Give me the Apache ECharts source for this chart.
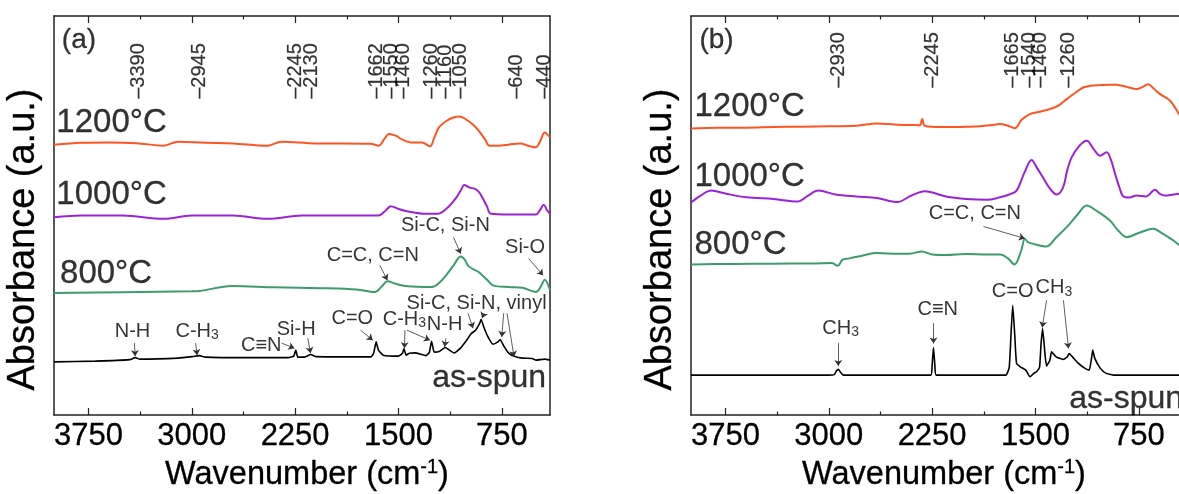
<!DOCTYPE html>
<html><head><meta charset="utf-8">
<script src="https://cdn.jsdelivr.net/npm/echarts@6/dist/echarts.min.js"></script>
<style>html,body{margin:0;padding:0;background:#fff}#c{width:1179px;height:494px}</style>
</head><body><div id="c"></div>
<script>
const FONT = 'Liberation Sans, Arial, sans-serif';
const majorTicks = [750, 1500, 2250, 3000, 3750];
const minorTicks = [1125, 1875, 2625, 3375];
const peaksA = [3390, 2945, 2245, 2130, 1662, 1550, 1460, 1260, 1160, 1050, 640, 440];
const peaksB = [2930, 2245, 1665, 1540, 1460, 1260];

// Panel (a) spectra [wavenumber, absorbance (offset, a.u.)]
const a1200 = [[4000,271],[3800,273],[3600,273.3],[3400,272.5],[3205,270],[3100,274],[2900,273],[2700,272.3],[2449,270],[2350,274],[2100,272.3],[1900,272.3],[1700,272],[1645,270],[1600,277],[1569,281.7],[1520,280],[1470,276],[1410,273.3],[1330,273.3],[1271,269.3],[1240,278],[1206,288.3],[1150,295],[1100,298.3],[1060,299.3],[995,295],[950,290],[918,285],[870,276],[840,270],[780,270],[700,271],[617,272.3],[560,270],[503,268.3],[470,275],[438,283.3],[410,280],[400,278.3]];
const a1000 = [[4000,198.3],[3800,200],[3500,200],[3205,196.7],[3000,200],[2700,200],[2450,196.7],[2200,200],[1900,200],[1645,200],[1600,204],[1555,209.3],[1500,206.5],[1440,204.3],[1300,201.7],[1217,201.7],[1150,207],[1087,216.7],[1040,227],[1024,230.7],[985,228],[944,226.7],[915,223.5],[892,218.3],[860,210],[828,201.7],[700,201],[600,201],[503,201],[470,206],[446,210.7],[420,205],[400,201.7]];
const a800 = [[4000,122.3],[3500,123],[3000,124],[2943,124.3],[2710,129.3],[2400,128],[2000,127],[1802,125.7],[1671,123.3],[1620,129],[1580,134],[1520,131.5],[1450,129.3],[1257,128.3],[1200,133],[1154,140],[1100,150],[1048,159],[1020,156],[990,149],[918,143.3],[860,136],[814,130],[700,128.3],[600,127.5],[503,123.3],[470,128],[438,135.7],[400,125]];
const aSpun = [[4000,53.3],[3700,54],[3450,55.5],[3410,57.5],[3380,56],[3100,57],[2995,58.5],[2945,59.5],[2900,58],[2600,57.5],[2300,57.5],[2260,59],[2245,65],[2230,58],[2180,58],[2138,60.7],[2100,58.5],[1900,58.3],[1700,58.3],[1680,62],[1662,73.3],[1645,65],[1610,60],[1500,59],[1470,62],[1460,66.7],[1445,60],[1420,62],[1380,62.3],[1300,59.5],[1275,63],[1260,74],[1240,63],[1200,64],[1160,67.7],[1130,65],[1095,62.3],[1050,67],[1000,76],[971,81.7],[940,85],[910,92],[900,96],[880,88],[850,78.3],[814,71],[780,73],[762,75.7],[735,69],[700,62],[660,59],[600,57],[530,56.7],[500,55],[440,56],[400,55]];

// Panel (b) spectra
const b1200 = [[4000,287.3],[3800,288],[3600,288],[3400,288.7],[3200,289],[3000,289.5],[2800,290],[2652,292.3],[2500,291],[2400,290.7],[2340,290.5],[2322,296.7],[2305,290],[2250,289],[2150,288.7],[2000,289],[1900,289.5],[1800,291],[1758,291.7],[1700,290],[1650,287.5],[1600,296],[1540,301.7],[1470,304],[1395,306.7],[1330,310.5],[1273,316.7],[1210,323],[1154,328.3],[1100,330],[1031,330.7],[960,331.2],[910,331],[840,329],[765,326.7],[720,329],[682,331.7],[640,327],[595,321.7],[523,315],[465,303.3],[430,295],[400,288]];
const b1000 = [[4000,213],[3930,220],[3852,225],[3750,222],[3600,218.3],[3400,216.5],[3227,214],[3150,220],[3076,225],[2950,221],[2800,219],[2650,217.5],[2502,213.5],[2400,220],[2303,224.3],[2150,219],[2000,216.5],[1850,215.7],[1758,218.3],[1690,221],[1637,225],[1580,243],[1528,255.7],[1490,248],[1446,238.3],[1400,228],[1346,221],[1300,228],[1270,245],[1237,258.3],[1180,270],[1128,275],[1075,266],[1031,260],[983,263.3],[950,255],[922,241.7],[890,228],[862,219],[820,218],[765,220],[700,219],[632,225.7],[600,222],[560,220],[500,221],[465,221.7],[400,220]];
const b800 = [[4000,151],[3700,151.5],[3400,151.7],[3100,152],[2977,152.3],[2935,149.5],[2900,155.7],[2850,157],[2751,160],[2652,162.3],[2500,161.7],[2400,162],[2327,164],[2250,161],[2150,160.5],[2000,161.5],[1850,161],[1752,161],[1700,157],[1652,151],[1603,165],[1577,176.7],[1555,173.3],[1500,171],[1419,169],[1350,178],[1273,188.3],[1200,200],[1128,210],[1060,205],[959,195],[900,185],[837,178.3],[760,182],[700,185],[644,186.7],[580,182],[500,175],[450,170],[400,168]];
const bSpun = [[4000,40],[3500,40],[3000,40],[2960,40.5],[2945,44],[2931,45.7],[2915,43],[2895,40],[2600,40],[2260,40],[2250,50],[2240,67.7],[2230,50],[2220,40],[1900,40],[1715,40],[1690,48],[1665,110],[1650,80],[1637,51.7],[1610,48.3],[1570,45],[1540,38.3],[1510,42],[1492,43.3],[1470,48],[1460,70],[1448,86.7],[1430,60],[1419,49],[1395,55],[1383,63.3],[1350,58.3],[1300,55.7],[1270,58],[1255,61.7],[1230,58],[1190,52],[1140,46.7],[1110,45],[1095,55],[1084,65],[1070,57],[1030,47],[990,42],[935,40],[800,40],[600,40],[400,40]];

// Text labels: [text, wavenumber, level]
const curveLabelsA = [['1200°C',3983,292.5],['1000°C',3983,221],['800°C',3956,141]];
const curveLabelsB = [['1200°C',3975,309],['1000°C',3975,239],['800°C',3975,171]];
const spunLabel = ['as-spun', 428, 37];
const spunLabelB = ['as-spun', 428, 16];
const annA = [
  ['N-H',3430,83.5],['{m|C-H}{s|3}',2961,84],['C≡N',2496,70],['Si-H',2242,85.5],['C=O',1835,96.5],
  ['{m|C-H}{s|3}',1457,96],['N-H',1165,90.5],['Si-C, Si-N, vinyl',933,111.5],['C=C, C=N',1686,160],
  ['Si-C, Si-N',1159,189.5],['Si-O',581,168]
];
const annB = [['C=C, C=N',1940,201.7],['{m|CH}{s|3}',2914,87],['C≡N',2209,106],['C=O',1665,123.5],['{m|CH}{s|3}',1366,127.5]];
// Arrows: [[w1,v1],[w2,v2]]
const arrowsA = [
  [[3416,72],[3411,59]],[[2972,72],[2961,60]],[[2347,72],[2255,67]],[[2158,77],[2138,62]],
  [[1775,85],[1686,75]],[[1453,85],[1456,67]],[[1438,85],[1271,75]],[[1155,77],[1165,68.3]],
  [[995,102],[959,87]],[[879,102],[893,97]],[[736,102],[750,78.3]],[[712,102],[661,58.3]],
  [[1635,150],[1580,135]],[[1100,178],[1048,161.7]],[[555,157],[450,140]]
];
const arrowsB = [
  [[1877,189],[1577,177]],[[2931,72],[2931,49]],[[2240,92],[2240,71.7]],
  [[1419,115],[1451,87.7]],[[1297,115],[1260,66.7]]
];
const peakLevelA = 317, peakLevelB = 328;

const thick = {textBorderColor:'#000', textBorderWidth:0.3};
function xAxes(g) {
  const base = {type:'value', gridIndex:g, min:400, max:4000, inverse:true, splitLine:{show:false}};
  const line = {show:true, lineStyle:{color:'#222', width:1.5}};
  return [
    Object.assign({}, base, {position:'bottom', axisLine:line,
      axisTick:{show:true, inside:true, length:7, customValues:majorTicks, lineStyle:{color:'#222', width:1.2}},
      axisLabel:Object.assign({show:true, customValues:majorTicks, fontSize:31, margin:6, fontFamily:FONT, color:'#000', formatter: v => String(v)}, thick),
      name:'{t|Wavenumber (cm}{p|-1}{t|)}', nameLocation:'middle', nameGap:38,
      nameTextStyle:{fontFamily:FONT, color:'#000', padding:[0,0,0,10], rich:{
        t:Object.assign({fontSize:32.5, lineHeight:36, fontFamily:FONT, color:'#000'}, thick),
        p:Object.assign({fontSize:20, lineHeight:20, verticalAlign:'top', fontFamily:FONT, color:'#000'}, thick)}}}),
    Object.assign({}, base, {position:'bottom', axisLine:{show:false},
      axisTick:{show:true, inside:true, length:3.5, customValues:minorTicks, lineStyle:{color:'#222', width:1.2}}, axisLabel:{show:false}}),
    Object.assign({}, base, {position:'top', axisLine:line,
      axisTick:{show:true, inside:true, length:7, customValues:majorTicks, lineStyle:{color:'#222', width:1.2}}, axisLabel:{show:false}}),
    Object.assign({}, base, {position:'top', axisLine:{show:false},
      axisTick:{show:true, inside:true, length:3.5, customValues:minorTicks, lineStyle:{color:'#222', width:1.2}}, axisLabel:{show:false}})
  ];
}
function yAxes(g) {
  const line = {show:true, lineStyle:{color:'#222', width:1.5}};
  return [
    {type:'value', gridIndex:g, min:0, max:400, position:'left', axisLine:line, axisTick:{show:false}, axisLabel:{show:false}, splitLine:{show:false},
     name:'Absorbance (a.u.)', nameLocation:'middle', nameGap:11,
     nameTextStyle:Object.assign({fontFamily:FONT, color:'#000', fontSize:38, padding:[0,48,0,0]}, thick)},
    {type:'value', gridIndex:g, min:0, max:400, position:'right', axisLine:line, axisTick:{show:false}, axisLabel:{show:false}, splitLine:{show:false}}
  ];
}
function spectrum(g, data, color, width, smooth) {
  return {type:'line', xAxisIndex:g*4, yAxisIndex:g*2, data:data, showSymbol:false, smooth:smooth,
    lineStyle:{color:color, width:width}, silent:true, z:3};
}
function textSeries(g, items, align, size, rich, bold) {
  return {type:'scatter', xAxisIndex:g*4, yAxisIndex:g*2, symbolSize:0, silent:true, z:6,
    data: items.map(t => ({value:[t[1], t[2]], label:{formatter:t[0]}})),
    label:Object.assign({show:true, position:[0,0], align:align, verticalAlign:'middle', fontFamily:FONT, color:'#000', fontSize:size,
      rich: rich || undefined}, bold ? thick : {})};
}
const subRich = {m:{fontSize:20, lineHeight:22, fontFamily:FONT, color:'#000'}, s:{fontSize:14, lineHeight:12, verticalAlign:'bottom', fontFamily:FONT, color:'#000'}};
function peakSeries(g, peaks, level) {
  return {type:'scatter', xAxisIndex:g*4, yAxisIndex:g*2, symbolSize:0, silent:true, z:6,
    data: peaks.map(w => ({value:[w, level], label:{formatter:'–' + w}})),
    label:{show:true, position:[0,0], rotate:90, align:'left', verticalAlign:'middle', fontFamily:FONT, color:'#000', fontSize:20,
      textBorderColor:'#000', textBorderWidth:0.2}};
}
function arrowSeries(g, arrows) {
  return {type:'lines', coordinateSystem:'cartesian2d', xAxisIndex:g*4, yAxisIndex:g*2, silent:true, z:5,
    symbol:['none','arrow'], symbolSize:6,
    lineStyle:{color:'#333', width:0.8, opacity:1, curveness:0},
    data: arrows.map(a => ({coords:a}))};
}

const chart = echarts.init(document.getElementById('c'), null, {renderer:'canvas'});
chart.setOption({
  animation:false,
  backgroundColor:'#fff',
  grid:[{left:54, top:16, width:496, height:399, outerBoundsMode:'none', containLabel:false},
        {left:691, top:16, width:496, height:399, outerBoundsMode:'none', containLabel:false}],
  xAxis: xAxes(0).concat(xAxes(1)),
  yAxis: yAxes(0).concat(yAxes(1)),
  series:[
    spectrum(0, a1200, '#ff5522', 2, 0.35),
    spectrum(0, a1000, '#9c22d8', 2, 0.35),
    spectrum(0, a800, '#3c9c6e', 2, 0.35),
    spectrum(0, aSpun, '#000', 1.6, 0.15),
    spectrum(1, b1200, '#ff5522', 2, 0.35),
    spectrum(1, b1000, '#9c22d8', 2, 0.35),
    spectrum(1, b800, '#3c9c6e', 2, 0.35),
    spectrum(1, bSpun, '#000', 1.6, 0.15),
    textSeries(0, [['(a)',3943,375.7]], 'left', 28, null, true),
    textSeries(1, [['(b)',3939,375.7]], 'left', 28, null, true),
    textSeries(0, curveLabelsA, 'left', 33, null, true),
    textSeries(1, curveLabelsB, 'left', 33, null, true),
    textSeries(0, [spunLabel], 'right', 32, null, true),
    textSeries(1, [spunLabelB], 'right', 32, null, true),
    textSeries(0, annA, 'center', 20, subRich),
    textSeries(1, annB, 'center', 20, subRich),
    peakSeries(0, peaksA, peakLevelA),
    peakSeries(1, peaksB, peakLevelB),
    arrowSeries(0, arrowsA),
    arrowSeries(1, arrowsB)
  ]
});
</script></body></html>
